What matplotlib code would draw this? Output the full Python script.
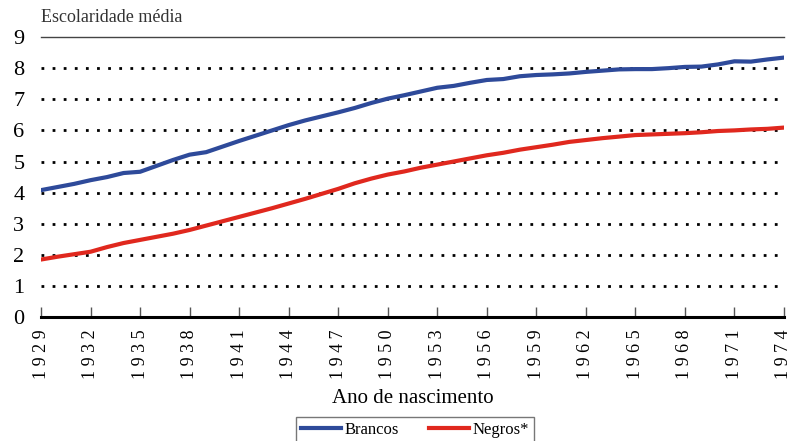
import numpy as np
import matplotlib.pyplot as plt

anos = list(range(1929, 1975))
brancos = [4.08, 4.18, 4.28, 4.40, 4.50, 4.63, 4.67, 4.86, 5.05, 5.22,
           5.30, 5.48, 5.66, 5.83, 6.00, 6.17, 6.32, 6.45, 6.58, 6.72,
           6.88, 7.02, 7.13, 7.25, 7.37, 7.43, 7.53, 7.62, 7.65, 7.74,
           7.78, 7.80, 7.83, 7.88, 7.92, 7.96, 7.97, 7.97, 8.00, 8.04,
           8.05, 8.12, 8.22, 8.21, 8.28, 8.34]
negros = [1.85, 1.94, 2.02, 2.10, 2.25, 2.38, 2.48, 2.58, 2.68, 2.80,
          2.94, 3.08, 3.22, 3.36, 3.50, 3.65, 3.80, 3.96, 4.12, 4.30,
          4.45, 4.58, 4.68, 4.80, 4.90, 5.00, 5.10, 5.20, 5.28, 5.38,
          5.46, 5.54, 5.63, 5.69, 5.75, 5.80, 5.85, 5.87, 5.89, 5.91,
          5.94, 5.98, 6.00, 6.03, 6.05, 6.09]
xticks = list(range(1929, 1975, 3))
yticks = list(range(0, 10))

plt.rcParams['font.family'] = ['Liberation Serif', 'DejaVu Serif']

fig = plt.figure(figsize=(7.95, 4.41), dpi=100)
ax = fig.add_axes([0.0516, 0.281, 0.9345, 0.635])

# dotted gridlines
for y in yticks[1:-1]:
    ax.axhline(y, color='black', lw=2, linestyle=(0, (1, 3)), zorder=1)
ax.axhline(9, color='#444444', lw=1, zorder=1, clip_on=False)

ax.plot(anos, brancos, color='#2E4A9A', lw=3, label='Brancos', zorder=3)
ax.plot(anos, negros, color='#E0281E', lw=3, label='Negros*', zorder=3)

ax.set_xlim(1929, 1974)
ax.set_ylim(0, 9)
ax.set_xticks(xticks)
ax.set_xticklabels([' '.join(str(t)) for t in xticks], rotation=90, fontsize=13)
ax.set_yticks(yticks)
ax.set_yticklabels([str(t) for t in yticks], fontsize=16)

for s in ['top', 'right', 'left']:
    ax.spines[s].set_visible(False)
ax.spines['bottom'].set_linewidth(2.2)
ax.spines['bottom'].set_color('black')
ax.tick_params(axis='x', direction='in', length=7, width=1, color='#555555', pad=9)
ax.tick_params(axis='y', length=0, pad=12)

ax.text(0, 1.04, 'Escolaridade média', transform=ax.transAxes,
        fontsize=13, color='#333333', ha='left', va='bottom')
ax.set_xlabel('Ano de nascimento', fontsize=15, labelpad=7)

leg = fig.legend(loc='lower center', bbox_to_anchor=(0.522, -0.024), ncol=2,
                 fontsize=12, frameon=True, fancybox=False, handlelength=2.4,
                 handletextpad=0.2, columnspacing=1.8, borderpad=0.3)
leg.get_frame().set_edgecolor('#555555')
leg.get_frame().set_linewidth(1)

fig.savefig('out.png', dpi=100)
